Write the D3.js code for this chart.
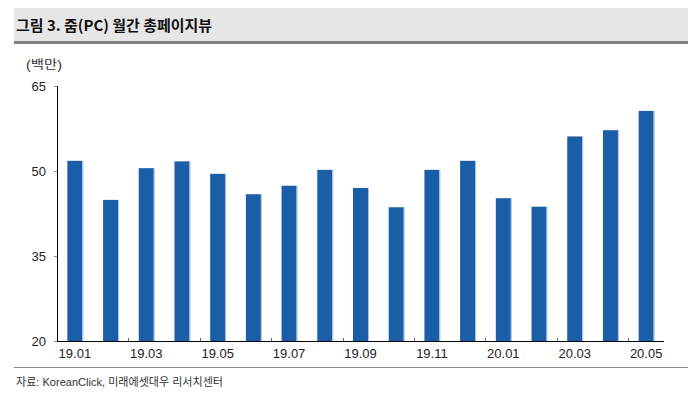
<!DOCTYPE html>
<html>
<head>
<meta charset="utf-8">
<script src="https://cdn.jsdelivr.net/npm/d3@7"></script>
<style>
  html, body { margin: 0; padding: 0; background: #fff; }
  svg { display: block; }
  text { font-family: "Liberation Sans", Arial, "Noto Sans CJK KR", sans-serif; }
  .kr { font-family: "Noto Sans CJK KR", "Liberation Sans", sans-serif; }
</style>
</head>
<body>
<svg id="chart" width="692" height="397"></svg>
<script>
const months = ['19.01', '19.02', '19.03', '19.04', '19.05', '19.06', '19.07', '19.08', '19.09',
  '19.10', '19.11', '19.12', '20.01', '20.02', '20.03', '20.04', '20.05'];
const pageViews = [51.8, 44.9, 50.5, 51.7, 49.5, 45.9, 47.4, 50.2, 47.0,
  43.6, 50.2, 51.8, 45.2, 43.7, 56.1, 57.2, 60.6];
const yTicks = [20, 35, 50, 65];
const titleText = '그림 3. 줌(PC) 월간 총페이지뷰';
const unitText = '(백만)';
const sourceText = '자료: KoreanClick, 미래에셋대우 리서치센터';

const svg = d3.select('#chart');

// title band
svg.append('rect').attr('x', 14).attr('y', 8).attr('width', 674).attr('height', 34).style('fill', '#e6e6e6');
svg.append('rect').attr('x', 14).attr('y', 41).attr('width', 674).attr('height', 3).style('fill', '#808080');
svg.append('text')
  .attr('class', 'kr')
  .attr('x', 16).attr('y', 31)
  .attr('textLength', 196).attr('lengthAdjust', 'spacingAndGlyphs')
  .style('font-size', '15px').style('font-weight', 'bold').style('fill', '#111')
  .text(titleText);

const x = d3.scaleBand().domain(months).range([57, 664]).paddingInner(0.58).paddingOuter(0.29);
const y = d3.scaleLinear().domain([20, 65]).range([341, 86]);

// bars
const gBars = svg.append('g').attr('class', 'g_bars');
gBars.selectAll('.bar')
  .data(pageViews)
  .enter()
  .append('rect')
  .attr('class', 'bar')
  .attr('x', (d, i) => x(months[i]))
  .attr('y', d => y(d))
  .attr('width', x.bandwidth())
  .attr('height', d => y(20) - y(d))
  .style('fill', '#1b5ea8');
gBars.selectAll('.bar_edge')
  .data(pageViews)
  .enter()
  .append('rect')
  .attr('class', 'bar_edge')
  .attr('x', (d, i) => x(months[i]) + x.bandwidth())
  .attr('y', d => y(d))
  .attr('width', 1)
  .attr('height', d => y(20) - y(d))
  .style('fill', '#a8c0e0');

// y axis
const yAxis = svg.append('g')
  .attr('transform', 'translate(57,0)')
  .call(d3.axisLeft(y).tickValues(yTicks).tickSize(3).tickPadding(8));
yAxis.select('.domain').attr('d', 'M0.5,' + y(65) + 'V' + (y(20) + 0.5)).style('stroke', '#000');
yAxis.selectAll('.tick line').style('stroke', '#888');
yAxis.selectAll('.tick text').style('font-size', '13px').style('fill', '#222');

// x axis
const xAxis = svg.append('g')
  .attr('transform', 'translate(0,341)')
  .call(d3.axisBottom(x).tickValues(months.filter((m, i) => i % 2 === 0)).tickSize(0).tickPadding(8));
xAxis.select('.domain').attr('d', 'M57,0.5H664').style('stroke', '#000');
xAxis.selectAll('.tick text').style('font-size', '13px').style('fill', '#222');
const step = x.step();
xAxis.selectAll('.sep')
  .data(months.filter((m, i) => i % 2 === 1 && i < months.length - 1))
  .enter()
  .append('line')
  .attr('class', 'sep')
  .attr('x1', m => Math.round(x(m) + x.bandwidth() + (step - x.bandwidth()) / 2) + 0.5)
  .attr('x2', m => Math.round(x(m) + x.bandwidth() + (step - x.bandwidth()) / 2) + 0.5)
  .attr('y1', 0).attr('y2', -3)
  .style('stroke', '#666');

// unit label
svg.append('text')
  .attr('x', 26).attr('y', 69)
  .attr('textLength', 36).attr('lengthAdjust', 'spacingAndGlyphs')
  .style('font-size', '12px').style('fill', '#333')
  .text(unitText);

// source
svg.append('rect').attr('x', 14).attr('y', 367).attr('width', 674).attr('height', 1).style('fill', '#888');
svg.append('text')
  .attr('x', 16).attr('y', 386)
  .attr('textLength', 207).attr('lengthAdjust', 'spacingAndGlyphs')
  .style('font-size', '11.5px').style('fill', '#333')
  .text(sourceText);
</script>
</body>
</html>
